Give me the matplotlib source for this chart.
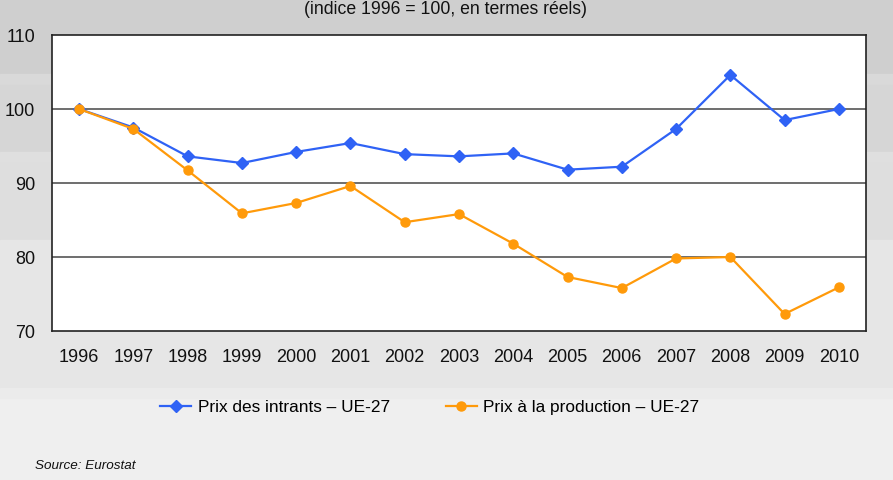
import matplotlib.pyplot as plt
from matplotlib.patches import Rectangle
from matplotlib.lines import Line2D

plt.rcParams['font.family'] = ['Liberation Sans', 'DejaVu Sans']

years = ['1996', '1997', '1998', '1999', '2000', '2001', '2002', '2003',
         '2004', '2005', '2006', '2007', '2008', '2009', '2010']
intrants = [100.0, 97.5, 93.6, 92.7, 94.2, 95.4, 93.9, 93.6,
            94.0, 91.8, 92.2, 97.3, 104.6, 98.5, 100.0]
production = [100.0, 97.3, 91.7, 85.9, 87.3, 89.6, 84.7, 85.8,
              81.8, 77.3, 75.8, 79.8, 80.0, 72.3, 75.9]
labels = ['Prix des intrants \u2013 UE-27', 'Prix \u00e0 la production \u2013 UE-27']
yticks = [70, 80, 90, 100, 110]

blue = '#2f62f5'
orange = '#ff9a0a'

fig = plt.figure(figsize=(8.93, 4.80), dpi=100)
fig.patch.set_facecolor('#efefef')

# background bands (pixel rows from top)
bands = [(0, 74, '#cfcfcf'), (74, 85, '#d9d9d9'), (85, 152, '#d6d6d6'),
         (152, 163, '#dfdfdf'), (163, 240, '#dedede'), (240, 388, '#e6e6e6'),
         (388, 398, '#ebebeb')]
for y0, y1, c in bands:
    fig.patches.append(Rectangle((0, 1 - y1 / 480), 1, (y1 - y0) / 480,
                                 transform=fig.transFigure, color=c, zorder=-5))

ax = fig.add_axes([52 / 893, 1 - 331 / 480, (866 - 52) / 893, (331 - 35) / 480])
ax.set_zorder(2)
ax.set_facecolor('white')

x = range(len(years))
ax.plot(x, intrants, color=blue, lw=1.6, marker='D', ms=6, zorder=3)
ax.plot(x, production, color=orange, lw=1.6, marker='o', ms=6.5, zorder=3)

ax.set_xlim(-0.5, len(years) - 0.5)
ax.set_ylim(70, 110)
ax.set_yticks(yticks)
ax.set_xticks(list(x))
ax.set_xticklabels(years)
ax.tick_params(length=0, labelsize=13, colors='#111111', pad=13)
ax.tick_params(axis='y', pad=12)
for v in [80, 90, 100]:
    ax.axhline(v, color='#555555', lw=1.2, zorder=1)
for s in ax.spines.values():
    s.set_color('#222222')
    s.set_linewidth(1.2)

fig.text(446 / 893, 1 - 9 / 480, '(indice 1996 = 100, en termes r\u00e9els)',
         ha='center', va='center', fontsize=12.7, color='#111111')

handles = [Line2D([], [], color=blue, lw=1.6, marker='D', ms=6),
           Line2D([], [], color=orange, lw=1.6, marker='o', ms=6.5)]
fig.legend(handles, labels, loc='center', bbox_to_anchor=(430 / 893, 1 - 407 / 480),
           ncol=2, frameon=False, fontsize=12.4, handlelength=1.8, handletextpad=0.4,
           columnspacing=3.2)

fig.text(35 / 893, 1 - 466 / 480, 'Source: Eurostat', style='italic',
         ha='left', va='center', fontsize=9.7, color='#111111')

fig.savefig('out.png', dpi=100)
